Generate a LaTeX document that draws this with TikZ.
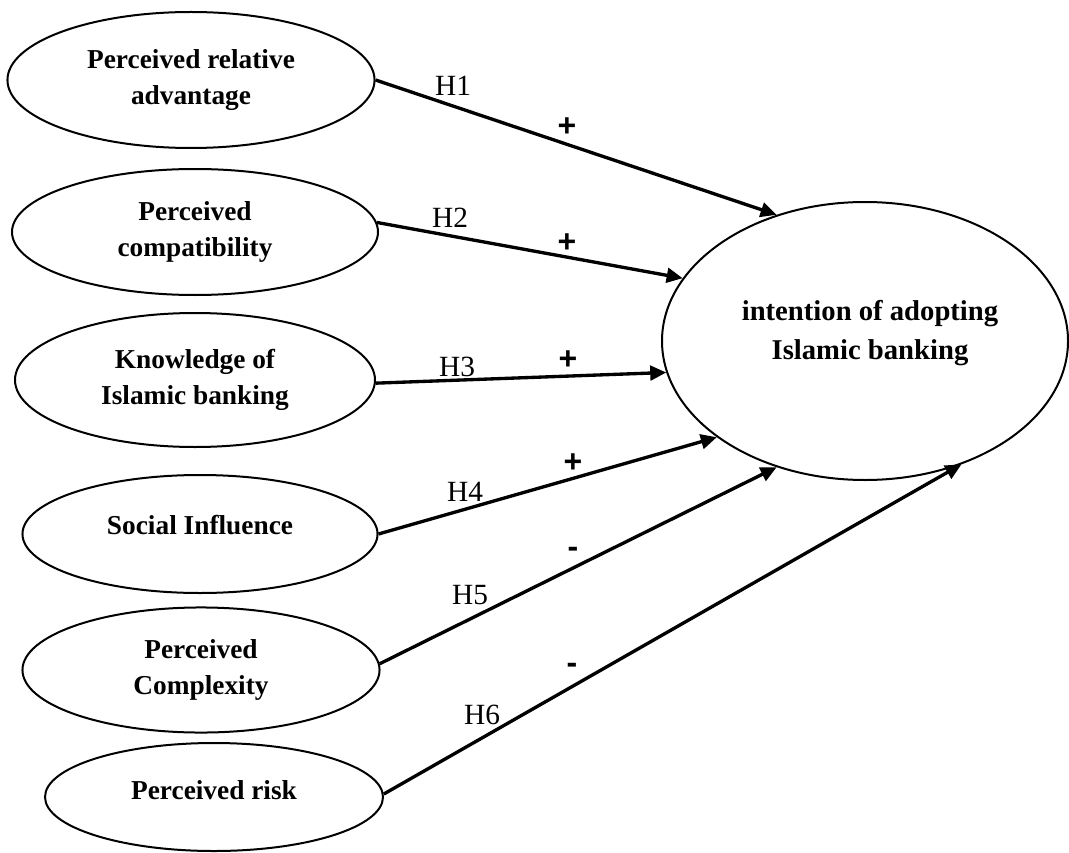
\documentclass[tikz,border=0pt]{standalone}
\usepackage{fontspec}
\setmainfont{Liberation Serif}
\newfontfamily\signfont{Liberation Sans}
\usetikzlibrary{shapes.geometric,arrows.meta}
\begin{document}
\begin{tikzpicture}[x=0.75pt,y=-0.75pt,
  oval/.style={draw, line width=1.5pt, ellipse, inner sep=0pt, align=center,
    font=\fontsize{20.5}{27}\selectfont\bfseries},
  bigtext/.style={inner sep=0pt, align=center, font=\fontsize{21.5}{29}\selectfont\bfseries},
  hyp/.style={inner sep=0pt, font=\fontsize{22}{26}\selectfont},
  sign/.style={inner sep=0pt, text height=14pt, text depth=0pt,
    font=\signfont\fontsize{24}{28}\selectfont\bfseries},
  link/.style={line width=2.5pt, -{Triangle[length=12pt,width=11pt]}}
]
\useasboundingbox (0,0) rectangle (1069,852);

% source constructs
\node[oval, minimum width=275.3pt, minimum height=102pt] (e1) at (191,80) {Perceived relative\\advantage};
\node[oval, minimum width=274.5pt, minimum height=94.5pt] (e2) at (195,232) {Perceived\\compatibility};
\node[oval, minimum width=270pt, minimum height=100.5pt] (e3) at (195,380) {Knowledge of\\Islamic banking};
\node[oval, minimum width=266.3pt, minimum height=88.5pt, text height=14pt, text depth=13.5pt] (e4) at (200,534) {Social Influence};
\node[oval, minimum width=267.8pt, minimum height=93.8pt] (e5) at (201,670) {Perceived\\Complexity};
\node[oval, minimum width=253.5pt, minimum height=81pt, text height=14pt, text depth=10.5pt] (e6) at (214,797) {Perceived risk};

% outcome
\node[oval, minimum width=304.5pt, minimum height=208.5pt] (big) at (865,341) {};
\node[bigtext] (bigt) at (870,333) {intention of adopting\\Islamic banking};

% hypotheses
\draw[link] (e1.east) -- (big.125.8);
\draw[link] (e2.3) -- (big.161.8);
\draw[link] (e3.-1.5) -- (big.189.6);
\draw[link] (e4.east) -- (big.213.9);
\draw[link] (e5.2) -- (big.235);
\draw[link] (e6.1) -- (big.308.9);

% labels
\node[hyp] (h1) at (453,86) {H1};
\node[hyp] (h2) at (450,218) {H2};
\node[hyp] (h3) at (457,367) {H3};
\node[hyp] (h4) at (465,492) {H4};
\node[hyp] (h5) at (470,595) {H5};
\node[hyp] (h6) at (482,715) {H6};

\node[sign] (s1) at (567,127) {+};
\node[sign] (s2) at (567,243) {+};
\node[sign] (s3) at (568,360) {+};
\node[sign] (s4) at (573,463) {+};
\node[sign] (s5) at (573,548) {-};
\node[sign] (s6) at (572,664) {-};
\end{tikzpicture}
\end{document}
